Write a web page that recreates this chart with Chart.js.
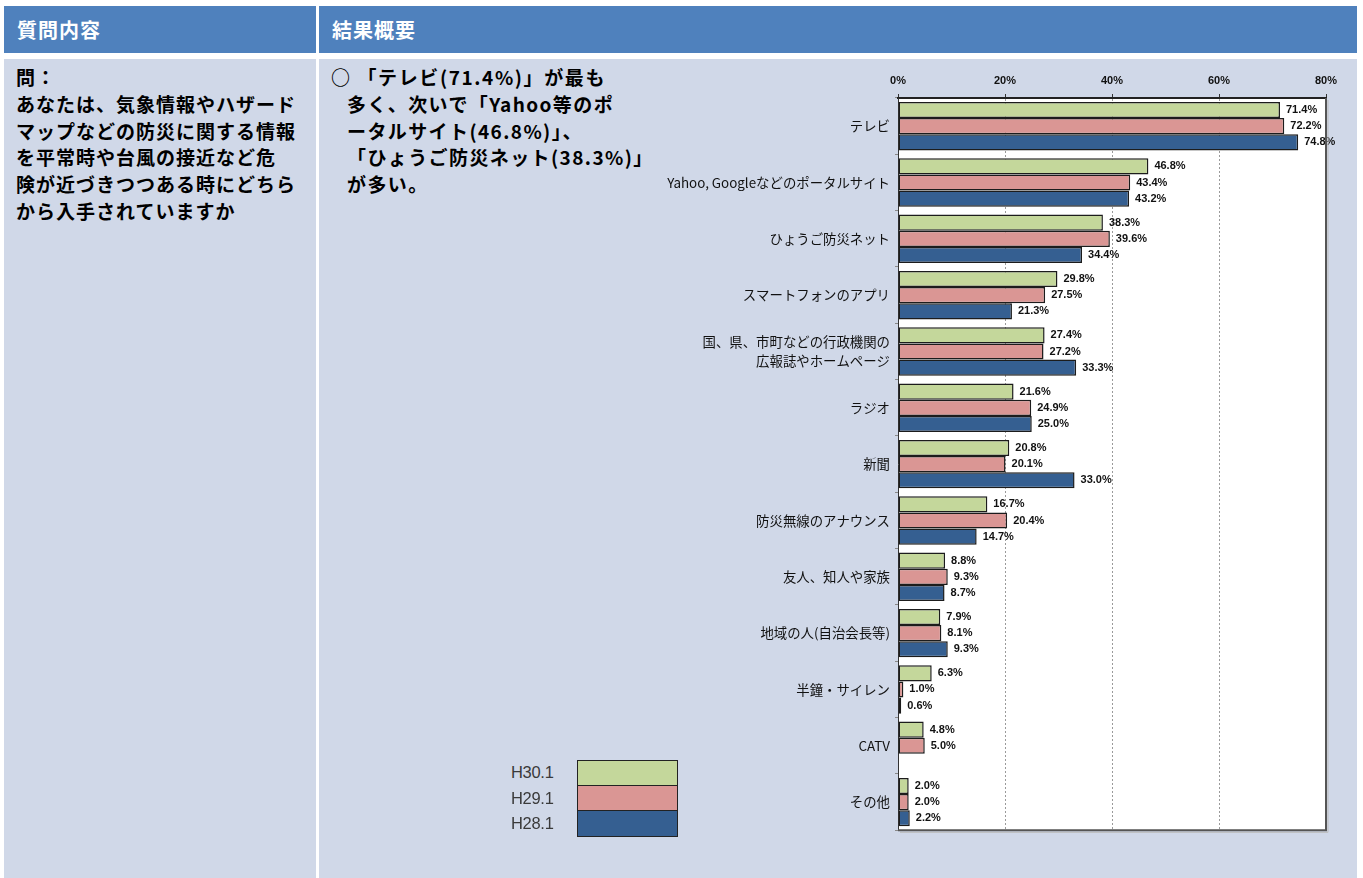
<!DOCTYPE html>
<html lang="ja">
<head>
<meta charset="utf-8">
<script src="https://cdn.jsdelivr.net/npm/chart.js@4/dist/chart.umd.min.js"></script>
<style>
  body { margin: 0; width: 1363px; height: 878px; background: #fff; position: relative; overflow: hidden;
         font-family: "Noto Sans CJK JP", "Noto Sans", sans-serif; }
  .cell { position: absolute; }
  .head { background: #4F81BD; color: #fff; font-weight: bold; font-size: 20px; line-height: 47px; top: 6px; height: 47px; letter-spacing: 1px; }
  .bodycell { background: #D0D8E8; top: 59px; height: 819px; }
  .txt { position: absolute; font-weight: bold; font-size: 19px; line-height: 26.8px; color: #000; letter-spacing: 1px; white-space: nowrap; }
  #chartBox { position: absolute; left: 660px; top: 60px; width: 690px; height: 785px; }
  #legend { position: absolute; left: 500px; top: 760px; }
  .lgRow { position: relative; height: 25.6px; }
  .lgLabel { position: absolute; left: 11px; top: 0; line-height: 25.6px; font-family: "Liberation Sans", Arial, sans-serif; font-size: 16.5px; color: #3a3a3a; letter-spacing: -0.3px; }
  .lgBox { position: absolute; left: 77px; top: 0; width: 99px; height: 24.6px; border: 1px solid #222; border-top-width: 0; }
  .lgRow:first-child .lgBox { border-top-width: 1px; height: 23.6px; }
</style>
</head>
<body>
<div class="cell head" style="left:4px; width:312px;"><span style="padding-left:13px">質問内容</span></div>
<div class="cell head" style="left:319px; width:1038px;"><span style="padding-left:13px">結果概要</span></div>
<div class="cell bodycell" style="left:4px; width:312px;"></div>
<div class="cell bodycell" style="left:319px; width:1038px;"></div>

<div class="txt" style="left:16px; top:64px;">問：<br>あなたは、気象情報やハザード<br>マップなどの防災に関する情報<br>を平常時や台風の接近など危<br>険が近づきつつある時にどちら<br>から入手されていますか</div>
<div class="txt" style="left:331px; top:64px; letter-spacing:1.6px;">○ 「テレビ(71.4%)」が最も</div>
<div class="txt" style="left:347px; top:90.8px; letter-spacing:1.4px;">多く、次いで「Yahoo等のポ<br>ータルサイト(46.8%)」、<br>「ひょうご防災ネット(38.3%)」<br>が多い。</div>

<div id="chartBox"><canvas id="surveyChart"></canvas></div>
<div id="legend"></div>

<script>
const categories = [
  'テレビ',
  'Yahoo, Googleなどのポータルサイト',
  'ひょうご防災ネット',
  'スマートフォンのアプリ',
  ['国、県、市町などの行政機関の', '広報誌やホームページ'],
  'ラジオ',
  '新聞',
  '防災無線のアナウンス',
  '友人、知人や家族',
  '地域の人(自治会長等)',
  '半鐘・サイレン',
  'CATV',
  'その他'
];
const seriesNames = ['H30.1', 'H29.1', 'H28.1'];
const seriesColors = ['#C4D79B', '#DA9694', '#355F91'];
const h30 = [71.4, 46.8, 38.3, 29.8, 27.4, 21.6, 20.8, 16.7, 8.8, 7.9, 6.3, 4.8, 2.0];
const h29 = [72.2, 43.4, 39.6, 27.5, 27.2, 24.9, 20.1, 20.4, 9.3, 8.1, 1.0, 5.0, 2.0];
const h28 = [74.8, 43.2, 34.4, 21.3, 33.3, 25.0, 33.0, 14.7, 8.7, 9.3, 0.6, null, 2.2];
const xTicks = [0, 20, 40, 60, 80];

// legend (html, built from the same arrays)
const legendEl = document.getElementById('legend');
seriesNames.forEach((name, i) => {
  const row = document.createElement('div');
  row.className = 'lgRow';
  row.innerHTML = '<span class="lgLabel">' + name + '</span><span class="lgBox" style="background:' + seriesColors[i] + '"></span>';
  legendEl.appendChild(row);
});

const plotFrame = {
  id: 'plotFrame',
  beforeDraw(chart) {
    const a = chart.chartArea, c = chart.ctx;
    c.save();
    c.fillStyle = '#fff';
    c.fillRect(a.left, a.top, a.right - a.left, a.bottom - a.top);
    c.restore();
  },
  afterDraw(chart) {
    const a = chart.chartArea, c = chart.ctx;
    c.save();
    c.strokeStyle = '#bbb';
    c.lineWidth = 1;
    c.beginPath();
    c.moveTo(a.right + 2, a.top + 2); c.lineTo(a.right + 2, a.bottom + 2); c.lineTo(a.left + 2, a.bottom + 2);
    c.stroke();
    c.strokeStyle = '#555';
    c.lineWidth = 2;
    c.beginPath();
    c.moveTo(a.right, a.top); c.lineTo(a.right, a.bottom); c.lineTo(a.left, a.bottom);
    c.stroke();
    c.restore();
  }
};

const valueLabels = {
  id: 'valueLabels',
  afterDatasetsDraw(chart) {
    const c = chart.ctx;
    c.save();
    c.font = 'bold 11px "Liberation Sans", Arial, sans-serif';
    c.fillStyle = '#111';
    c.textAlign = 'left';
    c.textBaseline = 'middle';
    chart.data.datasets.forEach((ds, di) => {
      chart.getDatasetMeta(di).data.forEach((bar, i) => {
        const v = ds.data[i];
        if (v === null) return;
        c.fillText(v.toFixed(1) + '%', bar.x + 6, bar.y);
      });
    });
    c.restore();
  }
};

const sets = [h30, h29, h28];
new Chart(document.getElementById('surveyChart'), {
  type: 'bar',
  data: {
    labels: categories,
    datasets: sets.map((d, i) => ({
      label: seriesNames[i],
      data: d,
      backgroundColor: seriesColors[i],
      borderColor: '#1c1c1c',
      borderWidth: 1.5,
      borderSkipped: false,
      categoryPercentage: 0.86,
      barPercentage: 1.0
    }))
  },
  options: {
    indexAxis: 'y',
    responsive: true,
    maintainAspectRatio: false,
    animation: false,
    layout: { padding: { top: 0, right: 24, bottom: 13, left: 0 } },
    plugins: {
      legend: { display: false },
      tooltip: { enabled: false }
    },
    scales: {
      x: {
        position: 'top',
        min: 0,
        max: 80,
        afterBuildTicks: (s) => { s.ticks = xTicks.map(v => ({ value: v })); },
        afterFit: (s) => { s.height = 38; },
        ticks: {
          callback: (v) => v + '%',
          font: { family: '"Liberation Sans", Arial, sans-serif', size: 11, weight: 'bold' },
          color: '#111',
          padding: 6,
          maxRotation: 0
        },
        grid: {
          color: (ctx) => (ctx.index === 0 || ctx.index === xTicks.length - 1) ? 'rgba(0,0,0,0)' : '#9a9a9a',
          tickColor: '#333',
          tickLength: 4,
          lineWidth: 1
        },
        border: { color: '#222', width: 2, dash: [2, 2] }
      },
      y: {
        afterFit: (s) => { s.width = 238; },
        ticks: {
          font: { family: '"Noto Sans CJK JP", sans-serif', size: 13.4, lineHeight: 1.45 },
          color: '#111',
          padding: 5
        },
        grid: {
          offset: true,
          drawOnChartArea: false,
          tickLength: 3,
          tickColor: '#888'
        },
        border: { color: '#333', width: 1 }
      }
    }
  },
  plugins: [plotFrame, valueLabels]
});
</script>
</body>
</html>
